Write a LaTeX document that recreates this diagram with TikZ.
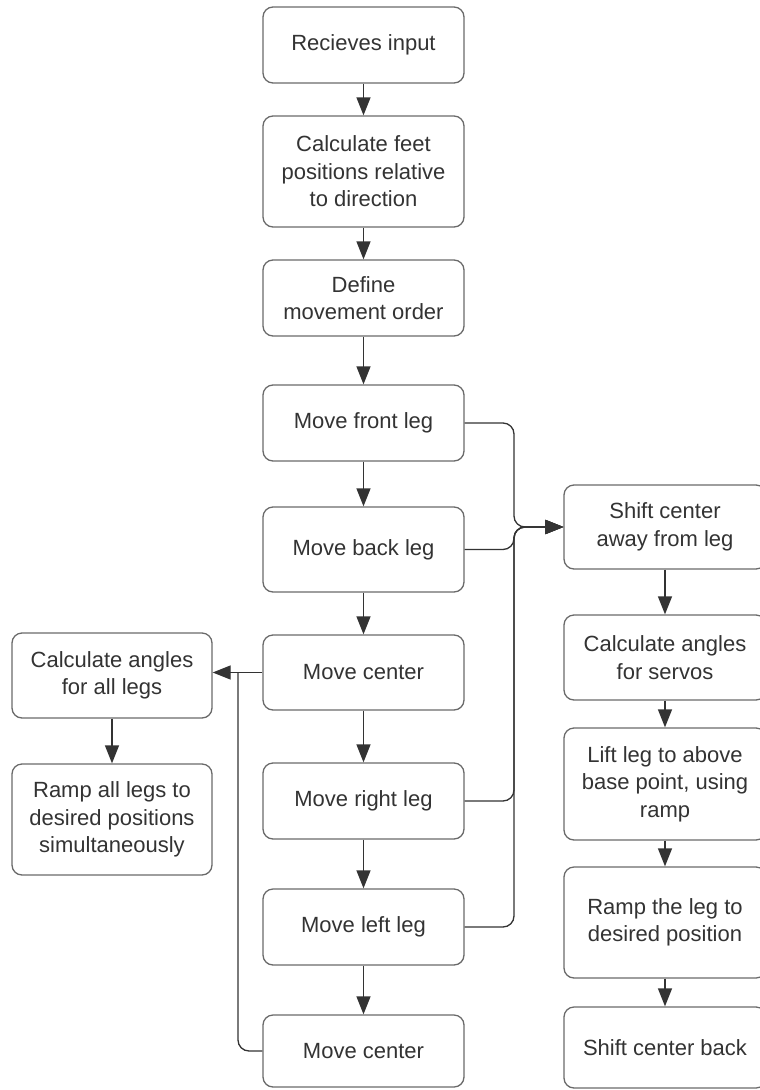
\documentclass[tikz,border=0pt]{standalone}
\usepackage{fontspec}
\setmainfont{Liberation Sans}
\usetikzlibrary{arrows.meta,calc}

\definecolor{boxgray}{HTML}{6A6A6A}
\definecolor{linegray}{HTML}{333333}
\definecolor{textgray}{HTML}{333333}

\begin{document}
\begin{tikzpicture}[x=1pt,y=-1pt,
  box/.style={draw=boxgray,line width=1.3pt,rounded corners=10pt,fill=white,
    text=textgray,align=center,inner sep=0pt,minimum width=201pt,
    font=\fontsize{22}{27.5}\selectfont},
  flow/.style={draw=linegray,line width=1.3pt,-{Triangle[length=18pt,width=14pt]}},
  link/.style={draw=linegray,line width=1.3pt,rounded corners=11pt}]

\clip (0,0) rectangle (760,1090);

\node[box,minimum height=76pt]  (c1) at (363.5,45)    {Recieves input};
\node[box,minimum height=111pt] (c2) at (363.5,171.5) {Calculate feet\\positions relative\\to direction};
\node[box,minimum height=76pt]  (c3) at (363.5,298)   {Define\\movement order};
\node[box,minimum height=76pt]  (c4) at (363.5,423)   {Move front leg};
\node[box,minimum height=85pt]  (c5) at (363.5,549.5) {Move back leg};
\node[box,minimum height=75pt]  (c6) at (363.5,672.5) {Move center};
\node[box,minimum height=76pt]  (c7) at (363.5,801)   {Move right leg};
\node[box,minimum height=76pt]  (c8) at (363.5,927)   {Move left leg};
\node[box,minimum height=72pt]  (c9) at (363.5,1051)  {Move center};

\node[box,minimum width=202pt,minimum height=84pt]  (r1) at (665,527)    {Shift center\\away from leg};
\node[box,minimum width=202pt,minimum height=85pt]  (r2) at (665,657.5)  {Calculate angles\\for servos};
\node[box,minimum width=202pt,minimum height=112pt] (r3) at (665,784)    {Lift leg to above\\base point, using\\ramp};
\node[box,minimum width=202pt,minimum height=111pt] (r4) at (665,922.5)  {Ramp the leg to\\desired position};
\node[box,minimum width=202pt,minimum height=81pt]  (r5) at (665,1047.5) {Shift center back};

\node[box,minimum width=200pt,minimum height=85pt]  (l1) at (112,675.5) {Calculate angles\\for all legs};
\node[box,minimum width=200pt,minimum height=111pt] (l2) at (112,819.5) {Ramp all legs to\\desired positions\\simultaneously};

\coordinate (bus) at (514,527);
\coordinate (elb) at (238,672.5);

\foreach \a/\b in {c1/c2,c2/c3,c3/c4,c4/c5,c5/c6,c6/c7,c7/c8,c8/c9,r1/r2,r2/r3,r3/r4,r4/r5,l1/l2}
  \draw[flow] (\a.south) -- (\b.north);

\foreach \a in {c4,c5,c7,c8}
  \draw[flow,rounded corners=11pt] (\a.east) -| (bus) -- (r1.west);

\draw[flow] (c6.west) -- (c6.west -| l1.east);
\draw[link] (c9.west) -| (elb);
\end{tikzpicture}
\end{document}
